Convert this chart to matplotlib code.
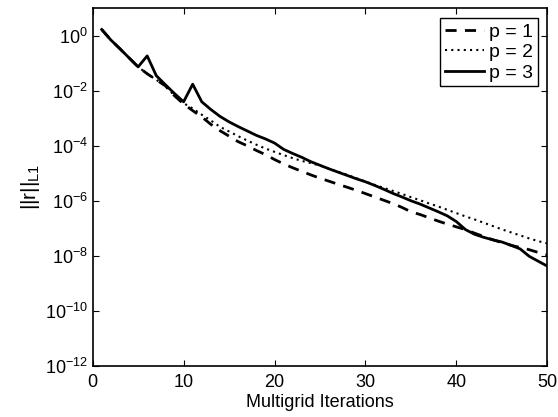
import numpy as np
import matplotlib
matplotlib.use('Agg')
from matplotlib import pyplot as plt

# log10 of the residual norm
iters = list(range(1, 51))
log_p1 = [0.23, -0.15, -0.47, -0.80, -1.13, -1.38, -1.60, -1.82, -2.18, -2.48,
          -2.72, -2.95, -3.22, -3.45, -3.65, -3.85, -4.00, -4.17, -4.32, -4.50,
          -4.66, -4.80, -4.93, -5.06, -5.18, -5.29, -5.40, -5.51, -5.62, -5.74,
          -5.86, -5.98, -6.10, -6.24, -6.40, -6.50, -6.62, -6.74, -6.85, -6.95,
          -7.05, -7.18, -7.30, -7.42, -7.52, -7.62, -7.70, -7.78, -7.88, -7.97]
log_p2 = [0.23, -0.15, -0.47, -0.80, -1.13, -1.38, -1.60, -1.82, -2.18, -2.45,
          -2.64, -2.87, -3.08, -3.31, -3.48, -3.65, -3.81, -3.96, -4.10, -4.22,
          -4.34, -4.45, -4.55, -4.63, -4.72, -4.83, -4.95, -5.06, -5.18, -5.30,
          -5.42, -5.53, -5.64, -5.75, -5.87, -5.98, -6.10, -6.21, -6.33, -6.45,
          -6.57, -6.68, -6.80, -6.92, -7.04, -7.15, -7.26, -7.37, -7.47, -7.55]
log_p3 = [0.23, -0.15, -0.47, -0.80, -1.13, -0.73, -1.45, -1.78, -2.10, -2.40,
          -1.76, -2.40, -2.68, -2.93, -3.13, -3.30, -3.46, -3.62, -3.75, -3.90,
          -4.13, -4.28, -4.42, -4.58, -4.71, -4.84, -4.96, -5.08, -5.20, -5.31,
          -5.44, -5.58, -5.73, -5.86, -6.00, -6.12, -6.26, -6.40, -6.55, -6.76,
          -7.05, -7.22, -7.33, -7.42, -7.50, -7.62, -7.75, -8.02, -8.20, -8.38]
labels = ['p = 1', 'p = 2', 'p = 3']

plt.rcParams['font.family'] = ['Liberation Sans', 'DejaVu Sans']
plt.rcParams['mathtext.default'] = 'regular'
plt.rcParams['font.size'] = 13

fig = plt.figure(figsize=(5.58, 4.17), dpi=100)
ax = fig.add_axes([0.166, 0.123, 0.815, 0.857])

ax.semilogy(iters, 10 ** np.array(log_p1), color='black', lw=2, linestyle=(0, (4, 3)), label=labels[0])
ax.semilogy(iters, 10 ** np.array(log_p2), color='black', lw=1.5, linestyle=(0, (1, 2)), label=labels[1])
ax.semilogy(iters, 10 ** np.array(log_p3), color='black', lw=2, linestyle='-', label=labels[2])

ax.set_xlim(0, 50)
ax.set_ylim(1e-12, 1e1)
ax.set_xticks([0, 10, 20, 30, 40, 50])
ax.set_yticks([1e0, 1e-2, 1e-4, 1e-6, 1e-8, 1e-10, 1e-12])
ax.yaxis.set_minor_locator(matplotlib.ticker.NullLocator())
ax.tick_params(direction='in', top=True, right=True, length=4, width=0.8, labelsize=13)
ax.tick_params(axis='x', pad=6)
for s in ax.spines.values():
    s.set_linewidth(1.2)

ax.set_xlabel('Multigrid Iterations', labelpad=2, fontsize=13)
ax.set_ylabel(r'$||r||_{L1}$', labelpad=2, fontsize=15)

leg = ax.legend(loc='upper right', fancybox=False, edgecolor='black', framealpha=1,
                fontsize=14, handlelength=2.0, handletextpad=0.25, borderpad=0.25,
                labelspacing=0.15, borderaxespad=0.5)
leg.get_frame().set_linewidth(1.0)

fig.savefig('out.png', dpi=100)
